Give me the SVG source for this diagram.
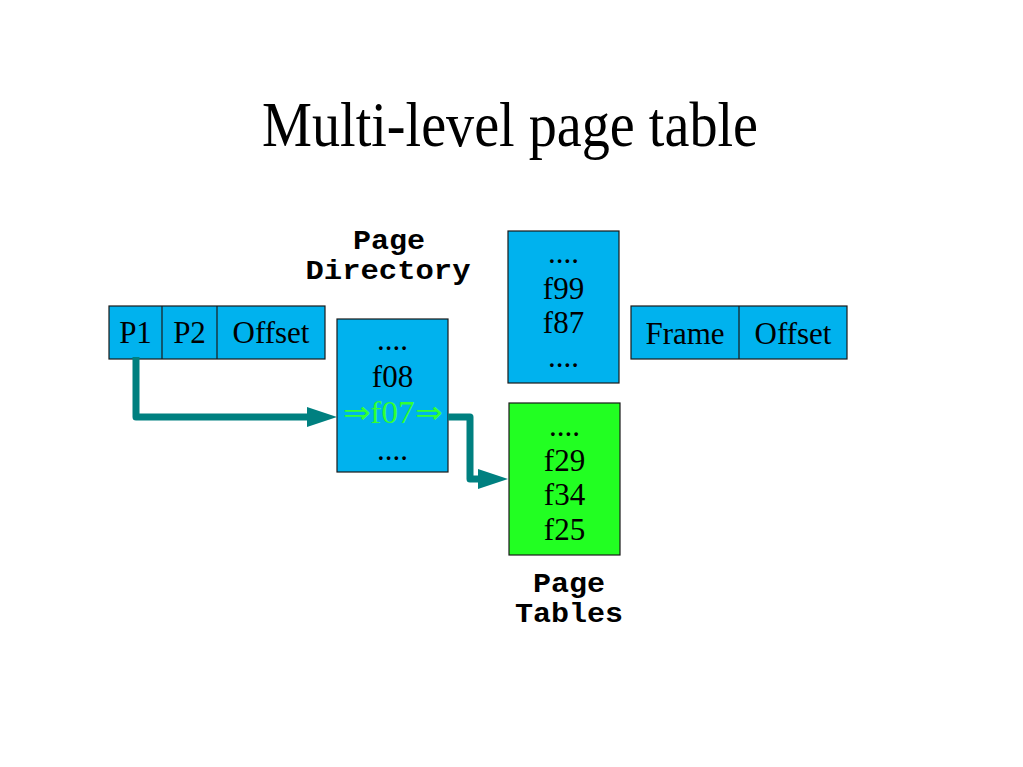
<svg xmlns="http://www.w3.org/2000/svg" width="1023" height="767" viewBox="0 0 1023 767">
<style>
.box{fill:#00b2ee;stroke:#1a1a1a;stroke-width:1.2}
.gbox{fill:#22ff22;stroke:#1a1a1a;stroke-width:1.2}
.t{font-family:"Liberation Serif","Times New Roman",serif;font-size:31px;fill:#000;text-anchor:middle}
.lbl{font-family:"Liberation Mono","Courier New",monospace;font-size:27px;font-weight:bold;fill:#000;text-anchor:middle}
.title{font-family:"Liberation Serif","Times New Roman",serif;font-size:64px;fill:#000;text-anchor:middle}
.conn{fill:none;stroke:#008080;stroke-width:7;stroke-linejoin:round;stroke-linecap:butt}
.hi{fill:#33ff33}
</style>
<defs>
<marker id="ah" viewBox="0 0 30 20" markerWidth="30" markerHeight="20" refX="0" refY="10" markerUnits="userSpaceOnUse" orient="auto">
<path d="M0,0 L30,10 L0,20 z" fill="#008080"/>
</marker>
</defs>
<rect width="1023" height="767" fill="#fff"/>
<text class="title" x="510" y="146" textLength="496" lengthAdjust="spacingAndGlyphs">Multi-level page table</text>

<g id="virtual-address">
<rect class="box" x="109" y="306" width="216" height="53"/>
<line x1="162" y1="306" x2="162" y2="359" stroke="#1a1a1a" stroke-width="1.2"/>
<line x1="217" y1="306" x2="217" y2="359" stroke="#1a1a1a" stroke-width="1.2"/>
<text class="t" x="135.5" y="343">P1</text>
<text class="t" x="189.5" y="343">P2</text>
<text class="t" x="271" y="343">Offset</text>
</g>

<g id="page-directory-label">
<text class="lbl" x="389" y="249" textLength="72" lengthAdjust="spacingAndGlyphs">Page</text>
<text class="lbl" x="388" y="279" textLength="165" lengthAdjust="spacingAndGlyphs">Directory</text>
</g>

<g id="page-directory">
<rect class="box" x="337" y="319" width="111" height="153"/>
<text class="t" x="392.5" y="350">....</text>
<text class="t" x="392.5" y="387">f08</text>
<text class="t hi" x="392.5" y="423" textLength="100" lengthAdjust="spacingAndGlyphs">⇒f07⇒</text>
<text class="t" x="392.5" y="460">....</text>
</g>

<g id="page-table-1">
<rect class="box" x="508" y="231" width="111" height="152"/>
<text class="t" x="563.5" y="263">....</text>
<text class="t" x="563.5" y="299">f99</text>
<text class="t" x="563.5" y="333">f87</text>
<text class="t" x="563.5" y="367">....</text>
</g>

<g id="page-table-2">
<rect class="gbox" x="509" y="403" width="111" height="152"/>
<text class="t" x="564.5" y="436">....</text>
<text class="t" x="564.5" y="471">f29</text>
<text class="t" x="564.5" y="505">f34</text>
<text class="t" x="564.5" y="540">f25</text>
</g>

<g id="page-tables-label">
<text class="lbl" x="569" y="592" textLength="72" lengthAdjust="spacingAndGlyphs">Page</text>
<text class="lbl" x="569" y="622" textLength="108" lengthAdjust="spacingAndGlyphs">Tables</text>
</g>

<g id="physical-address">
<rect class="box" x="631" y="306" width="216" height="53"/>
<line x1="739" y1="306" x2="739" y2="359" stroke="#1a1a1a" stroke-width="1.2"/>
<text class="t" x="685" y="344">Frame</text>
<text class="t" x="793" y="344">Offset</text>
</g>

<g id="connectors">
<path class="conn" d="M136,357 L136,417 L307,417" marker-end="url(#ah)"/>
<path class="conn" d="M448,417 L470,417 L470,479 L478,479" marker-end="url(#ah)"/>
</g>
</svg>
